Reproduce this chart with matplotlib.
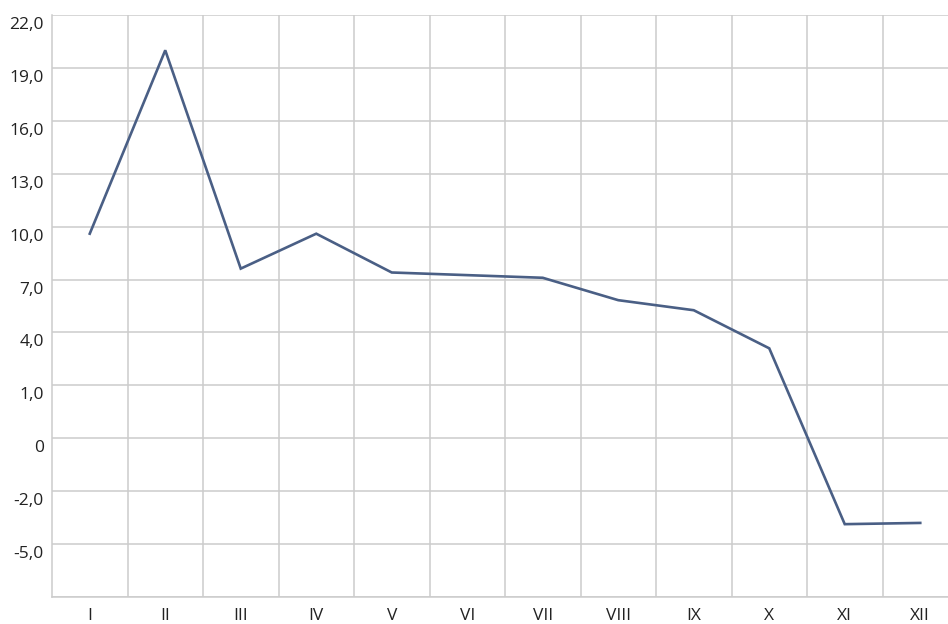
import matplotlib
matplotlib.use("Agg")
import matplotlib.pyplot as plt
import matplotlib.transforms as mtransforms

months = ["I", "II", "III", "IV", "V", "VI", "VII", "VIII", "IX", "X", "XI", "XII"]
values = [9.6, 20.0, 7.62, 9.6, 7.4, 7.25, 7.1, 5.83, 5.26, 3.1, -6.87, -6.8]

# tick positions are evenly spaced, labels kept as shown on the original chart
y_ticks = [22, 19, 16, 13, 10, 7, 4, 1, -2, -5, -8, -11]
y_labels = ["22,0", "19,0", "16,0", "13,0", "10,0", "7,0", "4,0", "1,0", "0", "-2,0", "-5,0", ""]


def main():
    plt.rcParams['font.family'] = ['Open Sans', 'DejaVu Sans']
    fig = plt.figure(figsize=(9.48, 6.24), dpi=100)
    ax = fig.add_axes([52 / 948, 27 / 624, 906 / 948, 582 / 624])

    x = list(range(len(months)))
    ax.plot(x, values, color="#4a5f85", linewidth=1.9, solid_joinstyle="miter", zorder=3)

    ax.set_xlim(-0.5, len(months) - 0.5)
    ax.set_ylim(-11, 22)

    ax.set_yticks(y_ticks)
    ax.set_yticklabels(y_labels)
    ax.set_xticks(x)
    ax.set_xticklabels(months)
    ax.set_xticks([i + 0.5 for i in range(len(months) - 1)], minor=True)

    ax.grid(axis="y", which="major", color="#cccccc", linewidth=1.1)
    ax.grid(axis="x", which="minor", color="#cccccc", linewidth=1.1)
    ax.set_axisbelow(True)

    ax.tick_params(axis="both", which="both", length=0, labelsize=12.5, colors="#222222")
    ax.tick_params(axis="y", pad=6)
    ax.tick_params(axis="x", pad=8)

    # y labels sit just below their gridline in the original
    shift = mtransforms.ScaledTranslation(0, -8 / 100, fig.dpi_scale_trans)
    for lbl in ax.get_yticklabels():
        lbl.set_transform(lbl.get_transform() + shift)

    for side in ["top", "right"]:
        ax.spines[side].set_visible(False)
    for side in ["left", "bottom"]:
        ax.spines[side].set_color("#cccccc")
        ax.spines[side].set_linewidth(1.1)

    plt.savefig("out.png", dpi=100)


if __name__ == "__main__":
    main()
